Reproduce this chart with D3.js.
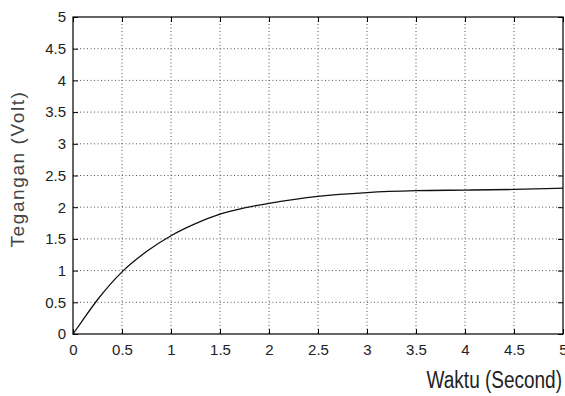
<!DOCTYPE html>
<html>
<head>
<meta charset="utf-8">
<script src="https://cdn.jsdelivr.net/npm/d3@7"></script>
<style>
  body { margin: 0; background: #fff; }
  text { font-family: "Liberation Sans", Arial, sans-serif; fill: #222; }
</style>
</head>
<body>
<div id="chart"></div>
<script>
// step response
var time = [0, 0.1, 0.25, 0.5, 0.75, 1, 1.25, 1.5, 1.75, 2, 2.5, 3, 3.5, 4, 4.5, 5];
var volt = [0, 0.22, 0.54, 0.98, 1.30, 1.55, 1.74, 1.89, 1.99, 2.06, 2.17, 2.23, 2.26, 2.27, 2.28, 2.30];

var xTicks = [0, 0.5, 1, 1.5, 2, 2.5, 3, 3.5, 4, 4.5, 5];
var yTicks = [0, 0.5, 1, 1.5, 2, 2.5, 3, 3.5, 4, 4.5, 5];

var W = 565, H = 396;
var margin = {top: 17, right: 2, bottom: 62, left: 73},
  width = W - margin.left - margin.right,
  height = H - margin.top - margin.bottom;

var svg = d3.select("#chart")
  .append("svg")
  .attr("width", W)
  .attr("height", H);

var g = svg.append("g")
  .attr("transform", "translate(" + margin.left + "," + margin.top + ")");

var x = d3.scaleLinear().domain([0, 5]).range([0, width]);
var y = d3.scaleLinear().domain([0, 5]).range([height, 0]);

// dotted grid
g.append("g")
  .selectAll("line")
  .data(xTicks.slice(1, -1))
  .enter().append("line")
  .attr("x1", function(d) { return x(d); })
  .attr("x2", function(d) { return x(d); })
  .attr("y1", 0).attr("y2", height)
  .style("stroke", "#555")
  .style("stroke-dasharray", "1,2.5");

g.append("g")
  .selectAll("line")
  .data(yTicks.slice(1, -1))
  .enter().append("line")
  .attr("y1", function(d) { return y(d); })
  .attr("y2", function(d) { return y(d); })
  .attr("x1", 0).attr("x2", width)
  .style("stroke", "#555")
  .style("stroke-dasharray", "1,2.5");

// axes with inward ticks
var fmt = function(d) { return d3.format("")(d); };

var xAxis = g.append("g")
  .attr("transform", "translate(0," + height + ")")
  .call(d3.axisBottom(x).tickValues(xTicks).tickSize(-5).tickPadding(10).tickFormat(fmt));
var yAxis = g.append("g")
  .call(d3.axisLeft(y).tickValues(yTicks).tickSize(-5).tickPadding(7).tickFormat(fmt));
var xTop = g.append("g")
  .call(d3.axisTop(x).tickValues(xTicks).tickSize(-5).tickFormat(""));
var yRight = g.append("g")
  .attr("transform", "translate(" + width + ",0)")
  .call(d3.axisRight(y).tickValues(yTicks).tickSize(-5).tickFormat(""));

[xAxis, yAxis, xTop, yRight].forEach(function(a) {
  a.select(".domain").remove();
  a.selectAll("line").style("stroke", "#000");
  a.selectAll("text")
    .style("font-size", "15px")
    .style("font-family", "Liberation Sans, Arial, sans-serif")
    .style("fill", "#222");
});

// box
g.append("rect")
  .attr("width", width)
  .attr("height", height)
  .style("fill", "none")
  .style("stroke", "#000")
  .style("stroke-width", 1.2);

// curve
var line = d3.line()
  .x(function(d, i) { return x(time[i]); })
  .y(function(d) { return y(d); })
  .curve(d3.curveMonotoneX);

g.append("path")
  .datum(volt)
  .attr("d", line)
  .style("fill", "none")
  .style("stroke", "#111")
  .style("stroke-width", 1.3);

// axis titles
svg.append("text")
  .attr("transform", "translate(562,388) scale(1,1.3)")
  .style("text-anchor", "end")
  .style("font-size", "19px")
  .text("Waktu (Second)");

svg.append("text")
  .attr("transform", "translate(24,169) rotate(-90)")
  .style("text-anchor", "middle")
  .style("font-size", "19px")
  .style("letter-spacing", "1.6px")
  .style("fill", "#444")
  .text("Tegangan (Volt)");
</script>
</body>
</html>
